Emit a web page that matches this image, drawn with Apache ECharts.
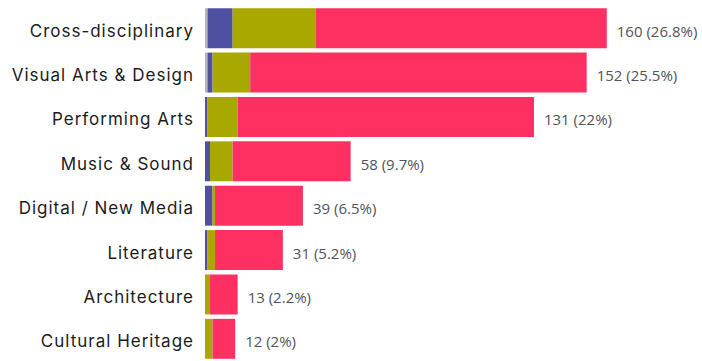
<!DOCTYPE html>
<html>
<head>
<meta charset="utf-8">
<script src="https://cdn.jsdelivr.net/npm/echarts@6/dist/echarts.min.js"></script>
<style>
  html, body { margin: 0; padding: 0; background: #fff; }
  #chart { width: 702px; height: 361px; }
  /* slightly tracked-out category names */
  #chart text[style*="Inter"] { letter-spacing: 1px; }
</style>
</head>
<body>
<div id="chart"></div>
<script>
// Disciplines, top to bottom
const categories = [
  'Cross-disciplinary',
  'Visual Arts & Design',
  'Performing Arts',
  'Music & Sound',
  'Digital / New Media',
  'Literature',
  'Architecture',
  'Cultural Heritage'
];

// Stacked segment counts per discipline
const grayValues  = [1, 1, 0, 0, 0, 0, 0, 0];
const blueValues  = [10, 2, 1, 2, 3, 1, 0, 0];
const oliveValues = [33, 15, 12, 9, 1, 3, 2, 3];
const redValues   = [116, 134, 118, 47, 35, 27, 11, 9];

const totals = categories.map((_, i) =>
  grayValues[i] + blueValues[i] + oliveValues[i] + redValues[i]);
const grandTotal = totals.reduce((a, b) => a + b, 0);

function pctLabel(i) {
  const pct = Math.round(totals[i] / grandTotal * 1000) / 10;
  return totals[i] + ' (' + pct + '%)';
}

const chart = echarts.init(document.getElementById('chart'), null, { renderer: 'svg' });

const segment = (name, data, color) => ({
  name,
  type: 'bar',
  stack: 'total',
  data,
  barCategoryGap: '10%',
  itemStyle: { color },
  emphasis: { disabled: true }
});

const redSeries = segment('d', redValues, '#fe3062');
redSeries.label = {
  show: true,
  position: 'right',
  distance: 10,
  offset: [0, 2.5],
  color: '#4f5459',
  fontFamily: 'Open Sans',
  fontSize: 15,
  formatter: p => pctLabel(p.dataIndex)
};

chart.setOption({
  animation: false,
  grid: { left: 205, right: 45, top: 6, bottom: -6, containLabel: false },
  xAxis: {
    type: 'value',
    min: 0,
    max: 180,
    show: false
  },
  yAxis: {
    type: 'category',
    data: categories,
    inverse: true,
    axisLine: { show: false },
    axisTick: { show: false },
    axisLabel: {
      margin: 11,
      formatter: v => '{n|' + v + '}',
      rich: {
        n: {
          padding: [5, 0, 0, 0],
          color: '#1c1c1c',
          fontFamily: 'Inter',
          fontSize: 17
        }
      },
      color: '#1c1c1c',
      fontFamily: 'Inter',
      fontSize: 17
    }
  },
  series: [
    segment('a', grayValues, '#b4b4b4'),
    segment('b', blueValues, '#4f50a2'),
    segment('c', oliveValues, '#a8a800'),
    redSeries
  ]
});
</script>
</body>
</html>
